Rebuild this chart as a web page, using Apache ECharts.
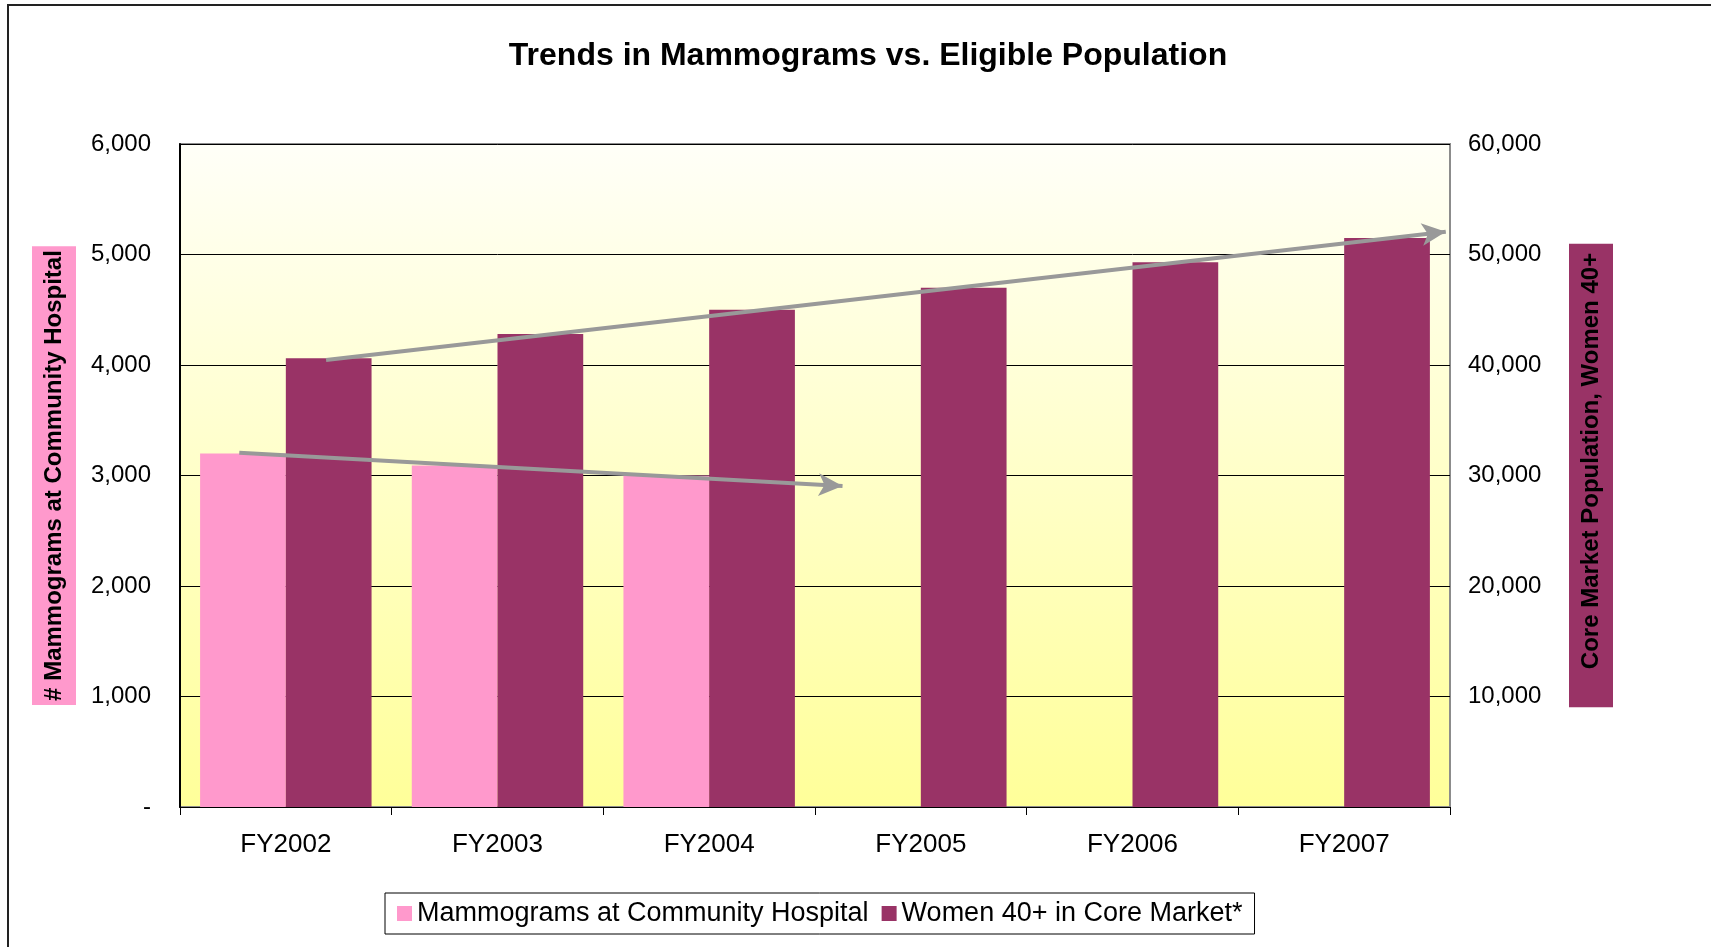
<!DOCTYPE html>
<html>
<head>
<meta charset="utf-8">
<script src="https://cdn.jsdelivr.net/npm/echarts@6/dist/echarts.min.js"></script>
<style>
  html, body { margin: 0; padding: 0; background: #fff; }
  #main { width: 1711px; height: 947px; }
</style>
</head>
<body>
<div id="main"></div>
<script>
// data
var years = ['FY2002', 'FY2003', 'FY2004', 'FY2005', 'FY2006', 'FY2007'];
var mammograms = [3200, 3090, 3000, null, null, null];
var women40 = [40600, 42800, 45000, 47000, 49300, 51500];

// trend arrows: [x (category index), y] start and end
var mammoTrend = [[-0.22, 3205], [2.63, 2905]];
var womenTrend = [[0.19, 40450], [5.48, 52050]];

var leftTicks = { min: 0, max: 6000, interval: 1000 };
var rightTicks = { min: 0, max: 60000, interval: 10000 };

var font = "'Liberation Sans', Arial, sans-serif";

var chart = echarts.init(document.getElementById('main'));

function fmt(v) {
  if (v === 0) return '-';
  return v.toLocaleString('en-US');
}

var option = {
  animation: false,
  textStyle: { fontFamily: font },
  title: {
    text: 'Trends in Mammograms vs. Eligible Population',
    left: 863,
    textAlign: 'center',
    top: 35,
    textStyle: { fontSize: 32, fontWeight: 'bold', color: '#000', fontFamily: font }
  },
  legend: {
    data: ['Mammograms at Community Hospital', 'Women 40+ in Core Market*'],
    left: 385,
    top: 893,
    padding: [7, 12, 7, 12],
    borderColor: '#000',
    borderWidth: 1,
    itemWidth: 15,
    itemHeight: 15,
    itemGap: 13,
    icon: 'rect',
    textStyle: { fontSize: 27, color: '#000', fontFamily: font }
  },
  graphic: [{
    type: 'rect',
    shape: { x: 8, y: 5, width: 1720, height: 960 },
    style: { fill: null, stroke: '#222', lineWidth: 2 },
    silent: true,
    z: 100
  }],
  grid: {
    left: 180,
    right: 261,
    top: 144,
    bottom: 140,
    show: true,
    borderColor: '#8c8c8c',
    borderWidth: 2,
    backgroundColor: new echarts.graphic.LinearGradient(0, 0, 0, 1, [
      { offset: 0, color: '#FFFFF8' },
      { offset: 1, color: '#FFFF99' }
    ])
  },
  xAxis: [{
    type: 'category',
    data: years,
    axisLine: { onZero: false, lineStyle: { color: '#000', width: 1 } },
    axisTick: { show: true, length: 8, lineStyle: { color: '#000' } },
    axisLabel: { fontSize: 26, color: '#000', margin: 25, fontFamily: font }
  }, {
    type: 'value',
    min: -0.5,
    max: 5.5,
    show: false
  }],
  yAxis: [{
    type: 'value',
    min: leftTicks.min,
    max: leftTicks.max,
    interval: leftTicks.interval,
    position: 'left',
    name: '# Mammograms at Community Hospital',
    nameLocation: 'middle',
    nameRotate: 90,
    nameGap: 104,
    nameTextStyle: {
      fontSize: 24, fontWeight: 'bold', color: '#000', fontFamily: font,
      backgroundColor: '#FF99CC', padding: [8, 4, 8, 4], lineHeight: 28
    },
    axisLine: { show: true, onZero: false, lineStyle: { color: '#000', width: 2 } },
    axisTick: { show: false },
    splitLine: { show: true, lineStyle: { color: '#000', width: 1 } },
    axisLabel: { fontSize: 24, color: '#000', margin: 29, formatter: fmt, fontFamily: font }
  }, {
    type: 'value',
    min: rightTicks.min,
    max: rightTicks.max,
    interval: rightTicks.interval,
    position: 'right',
    name: 'Core Market Population, Women 40+',
    nameLocation: 'middle',
    nameRotate: 90,
    nameGap: 119,
    nameTextStyle: {
      fontSize: 24, fontWeight: 'bold', color: '#000', fontFamily: font,
      backgroundColor: '#993366', padding: [8, 9, 8, 38], lineHeight: 28
    },
    axisLine: { show: false, onZero: false },
    axisTick: { show: false },
    splitLine: { show: false },
    axisLabel: {
      fontSize: 24, color: '#000', margin: 18, fontFamily: font,
      formatter: function (v) { return v === 0 ? '' : v.toLocaleString('en-US'); }
    }
  }],
  series: [{
    name: 'Mammograms at Community Hospital',
    type: 'bar',
    xAxisIndex: 0,
    yAxisIndex: 0,
    data: mammograms,
    barGap: '0%',
    barCategoryGap: '19%',
    itemStyle: { color: '#FF99CC' }
  }, {
    name: 'Women 40+ in Core Market*',
    type: 'bar',
    xAxisIndex: 0,
    yAxisIndex: 1,
    data: women40,
    barGap: '0%',
    barCategoryGap: '19%',
    itemStyle: { color: '#993366' }
  }, {
    name: 'mammoTrend',
    type: 'line',
    xAxisIndex: 1,
    yAxisIndex: 0,
    data: [],
    markLine: {
      silent: true,
      symbol: ['none', 'arrow'],
      symbolSize: [17, 24],
      label: { show: false },
      lineStyle: { color: '#999', width: 4, type: 'solid' },
      data: [[{ coord: mammoTrend[0] }, { coord: mammoTrend[1] }]]
    }
  }, {
    name: 'womenTrend',
    type: 'line',
    xAxisIndex: 1,
    yAxisIndex: 1,
    data: [],
    markLine: {
      silent: true,
      symbol: ['none', 'arrow'],
      symbolSize: [17, 24],
      label: { show: false },
      lineStyle: { color: '#999', width: 4, type: 'solid' },
      data: [[{ coord: womenTrend[0] }, { coord: womenTrend[1] }]]
    }
  }]
};

chart.setOption(option);
</script>
</body>
</html>
